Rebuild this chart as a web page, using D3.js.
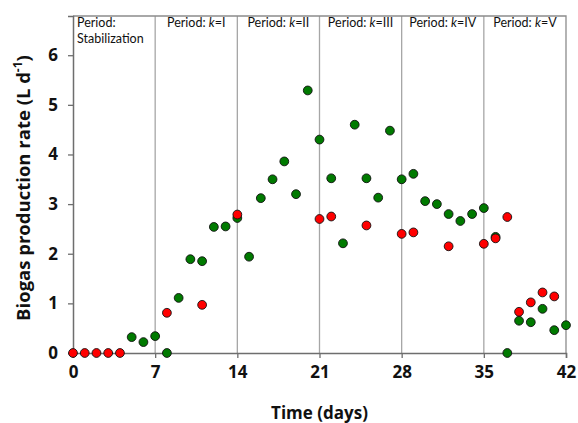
<html>
<script src="https://d3js.org/d3.v7.min.js"></script>
<body style="margin:0">
<script>
var width = 578
var height = 423
var margin = {left: 73, right: 12, top: 16, bottom: 70}

var redDays = [0, 1, 2, 3, 4, 8, 11, 14, 21, 22, 25, 28, 29, 32, 35, 36, 37, 38, 39, 40, 41]
var redRates = [0, 0, 0, 0, 0, 0.81, 0.97, 2.79, 2.70, 2.75, 2.57, 2.40, 2.43, 2.15, 2.20, 2.31, 2.74, 0.83, 1.02, 1.22, 1.14]

var greenDays = [5, 6, 7, 8, 9, 10, 11, 12, 13, 14, 15, 16, 17, 18, 19, 20, 21, 22, 23, 24, 25, 26, 27, 28, 29, 30, 31, 32, 33, 34, 35, 36, 37, 38, 39, 40, 41, 42]
var greenRates = [0.32, 0.22, 0.34, 0, 1.11, 1.89, 1.85, 2.54, 2.55, 2.72, 1.94, 3.12, 3.50, 3.86, 3.20, 5.29, 4.30, 3.52, 2.21, 4.60, 3.52, 3.13, 4.48, 3.50, 3.61, 3.06, 3.00, 2.80, 2.66, 2.80, 2.92, 2.34, 0, 0.65, 0.62, 0.89, 0.46, 0.56]

var xTicks = [0, 7, 14, 21, 28, 35, 42]
var yTicks = [0, 1, 2, 3, 4, 5, 6]
var periodStarts = [0, 7, 14, 21, 28, 35]
var periodNames = ['Stabilization', 'I', 'II', 'III', 'IV', 'V']

var svg = d3.select('body').append('svg').attr('width', width).attr('height', height)
    .style('font-family', 'Open Sans, sans-serif')

var x = d3.scaleLinear().domain([0, 42]).range([margin.left, width - margin.right])
var y = d3.scaleLinear().domain([0, 6.79]).range([height - margin.bottom, margin.top])

// period divider lines
svg.selectAll('.divider').data(periodStarts.slice(1)).enter().append('line')
    .attr('x1', d => x(d)).attr('x2', d => x(d))
    .attr('y1', y(0)).attr('y2', margin.top)
    .attr('stroke', '#a6a6a6').attr('stroke-width', 1.3)

// top and right border
svg.append('path')
    .attr('d', `M${x(0)},${margin.top}H${x(42)}V${y(0)}`)
    .attr('fill', 'none').attr('stroke', '#8c8c8c').attr('stroke-width', 1.3)

// axes
var xAxis = d3.axisBottom(x).tickValues(xTicks).tickSize(5).tickPadding(8).tickFormat(d3.format('d'))
var yAxis = d3.axisLeft(y).tickValues(yTicks).tickSize(5).tickPadding(10).tickFormat(d3.format('d'))

var gx = svg.append('g').attr('transform', `translate(0, ${y(0)})`).call(xAxis)
var gy = svg.append('g').attr('transform', `translate(${x(0)}, 0)`).call(yAxis)
;[gx, gy].forEach(function(g) {
    g.select('.domain').attr('stroke', '#6e6e6e').attr('stroke-width', 1.5)
    g.selectAll('.tick line').attr('stroke', '#6e6e6e').attr('stroke-width', 1.3)
    g.selectAll('.tick text').attr('font-size', 17).attr('font-weight', 'bold')
        .attr('fill', '#111').style('font-family', 'Open Sans, sans-serif')
})

// period labels
periodStarts.forEach(function(p, i) {
    if (i == 0) {
        svg.append('text').attr('font-size', 12.5).attr('fill', '#111').style('font-family', 'Lato, sans-serif')
            .attr('x', x(p) + 4).attr('y', margin.top + 11).text('Period:')
        svg.append('text').attr('font-size', 12.5).attr('fill', '#111').style('font-family', 'Lato, sans-serif')
            .attr('x', x(p) + 4).attr('y', margin.top + 26.5).text(periodNames[i])
    } else {
        var t = svg.append('text').attr('font-size', 12.5).attr('fill', '#111').style('font-family', 'Lato, sans-serif')
            .attr('x', (x(p) + x(p + 7)) / 2).attr('y', margin.top + 11).attr('text-anchor', 'middle')
        t.append('tspan').text('Period: ')
        t.append('tspan').attr('font-style', 'italic').text('k')
        t.append('tspan').text('=' + periodNames[i])
    }
})

// points
function drawSeries(days, rates, color) {
    svg.append('g').selectAll('circle').data(days).enter().append('circle')
        .attr('cx', d => x(d))
        .attr('cy', (d, i) => y(rates[i]))
        .attr('r', 4.4)
        .attr('fill', color).attr('stroke', '#111').attr('stroke-width', 0.9)
}
drawSeries(greenDays, greenRates, '#007a00')
drawSeries(redDays, redRates, '#ff0000')

// axis titles
svg.append('text').attr('x', (x(0) + x(42)) / 2).attr('y', 419)
    .attr('text-anchor', 'middle').attr('font-size', 17).attr('font-weight', 'bold')
    .attr('fill', '#111').text('Time (days)')

var yt = svg.append('text').attr('transform', 'translate(30, 188) rotate(-90)')
    .attr('text-anchor', 'middle').attr('font-size', 18.5).attr('font-weight', 'bold').attr('fill', '#111')
yt.append('tspan').text('Biogas production rate (L d')
yt.append('tspan').attr('font-size', 12).attr('dy', -8).text('-1')
yt.append('tspan').attr('dy', 8).text(')')
</script>
</body>
</html>
